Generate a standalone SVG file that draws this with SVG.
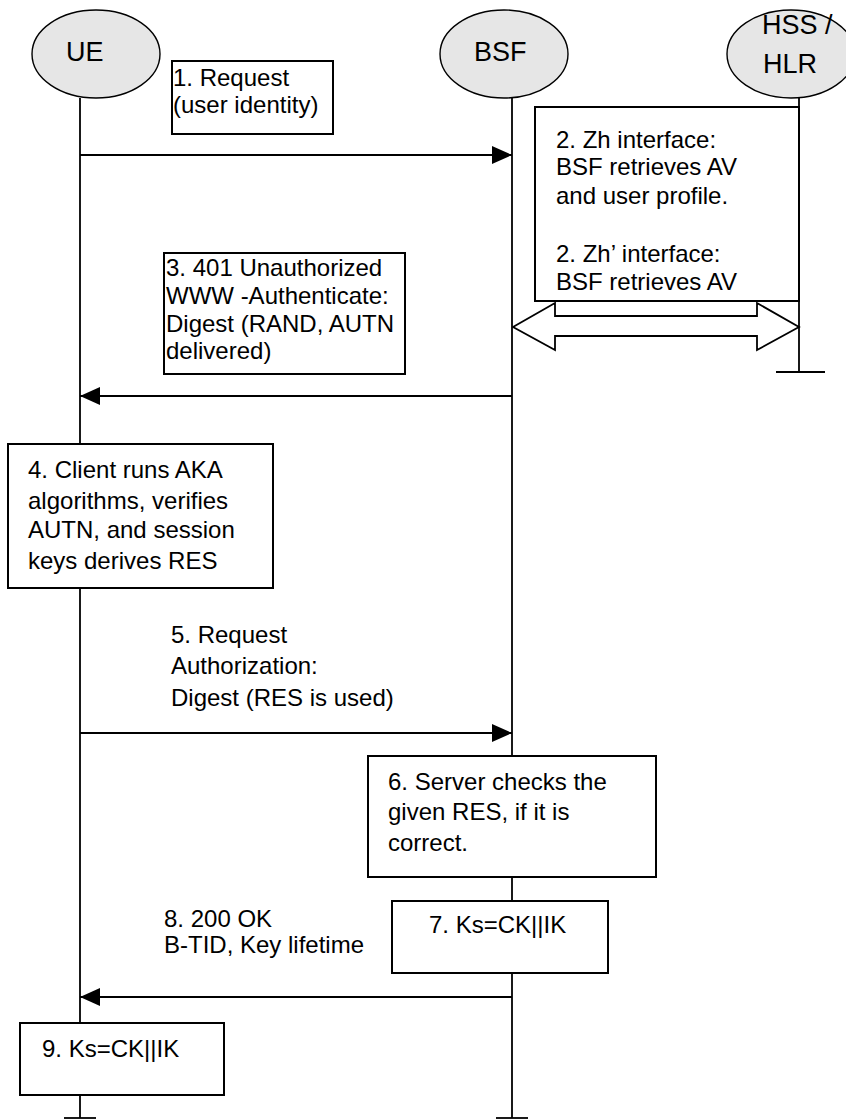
<svg xmlns="http://www.w3.org/2000/svg" width="846" height="1120" viewBox="0 0 846 1120">
<style>
.ent{fill:#e6e6e6;stroke:#000;stroke-width:1.4}
.box{fill:#fff;stroke:#000;stroke-width:2}
.life{stroke:#000;stroke-width:1.8;fill:none}
.msg{stroke:#000;stroke-width:1.8;fill:none}
.dbl{fill:#fff;stroke:#000;stroke-width:1.8}
text{font-family:"Liberation Sans",Arial,sans-serif;font-size:24px;fill:#000}
.lbl{font-size:27px}
</style>
<defs>
<marker id="ah" markerUnits="userSpaceOnUse" markerWidth="20" markerHeight="18" refX="20" refY="9" orient="auto">
<path d="M0,0 L20,9 L0,18 Z" fill="#000"/>
</marker>
</defs>
<rect width="846" height="1120" fill="#fff"/>
<g id="connectors">
<line class="life" x1="80" y1="98" x2="80" y2="1118"/>
<line class="life" x1="64" y1="1118" x2="96" y2="1118"/>
<line class="life" x1="512" y1="98" x2="512" y2="1118"/>
<line class="life" x1="496" y1="1118" x2="528" y2="1118"/>
<line class="life" x1="799" y1="98" x2="799" y2="372"/>
<line class="life" x1="776" y1="372" x2="825" y2="372"/>
<line class="msg" x1="80" y1="155" x2="512" y2="155" marker-end="url(#ah)"/>
<line class="msg" x1="512" y1="396" x2="80" y2="396" marker-end="url(#ah)"/>
<line class="msg" x1="80" y1="733" x2="512" y2="733" marker-end="url(#ah)"/>
<line class="msg" x1="512" y1="997" x2="80" y2="997" marker-end="url(#ah)"/>
<polygon id="zh" class="dbl" points="513,327 555,303 555,316 757,316 757,303 799,327 757,350 757,336 555,336 555,350"/>
</g>
<g id="UE">
<ellipse class="ent" cx="96" cy="54" rx="64" ry="44"/>
<text class="lbl" x="66" y="61">UE</text>
</g>
<g id="BSF">
<ellipse class="ent" cx="504" cy="54" rx="64" ry="44"/>
<text class="lbl" x="474" y="61">BSF</text>
</g>
<g id="HSS">
<ellipse class="ent" cx="791" cy="54" rx="64" ry="44"/>
<text class="lbl" x="762" y="34">HSS /</text>
<text class="lbl" x="763" y="73">HLR</text>
</g>
<g id="step1">
<rect class="box" x="172" y="61" width="161" height="73"/>
<text x="173" y="86">1. Request</text>
<text x="173" y="113">(user identity)</text>
</g>
<g id="step2">
<rect class="box" x="535" y="107" width="264" height="194"/>
<text x="556" y="148">2. Zh interface:</text>
<text x="556" y="175">BSF retrieves AV</text>
<text x="556" y="204">and user profile.</text>
<text x="556" y="262">2. Zh’ interface:</text>
<text x="556" y="290">BSF retrieves AV</text>
</g>
<g id="step3">
<rect class="box" x="164" y="253" width="241" height="121"/>
<text x="166" y="276">3. 401 Unauthorized</text>
<text x="166" y="304">WWW -Authenticate:</text>
<text x="166" y="332">Digest (RAND, AUTN</text>
<text x="166" y="359">delivered)</text>
</g>
<g id="step4">
<rect class="box" x="8" y="444" width="265" height="144"/>
<text x="28" y="478">4. Client runs AKA</text>
<text x="28" y="509">algorithms, verifies</text>
<text x="28" y="538">AUTN, and session</text>
<text x="28" y="569">keys derives RES</text>
</g>
<g id="step5">
<text x="171" y="643">5. Request</text>
<text x="171" y="674">Authorization:</text>
<text x="171" y="706">Digest (RES is used)</text>
</g>
<g id="step6">
<rect class="box" x="368" y="756" width="288" height="121"/>
<text x="388" y="790">6. Server checks the</text>
<text x="388" y="820">given RES, if it is</text>
<text x="388" y="851">correct.</text>
</g>
<g id="step7">
<rect class="box" x="392" y="901" width="216" height="72"/>
<text x="429" y="933">7. Ks=CK||IK</text>
</g>
<g id="step8">
<text x="164" y="927">8. 200 OK</text>
<text x="164" y="953">B-TID, Key lifetime</text>
</g>
<g id="step9">
<rect class="box" x="20" y="1023" width="204" height="72"/>
<text x="42" y="1057">9. Ks=CK||IK</text>
</g>
</svg>
